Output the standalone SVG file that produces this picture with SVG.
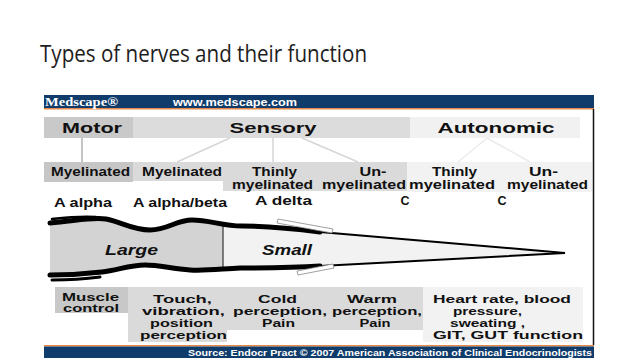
<svg xmlns="http://www.w3.org/2000/svg" width="638" height="359" viewBox="0 0 638 359">
<style>
.t{font-family:"Liberation Sans",Arial,sans-serif;font-weight:bold;fill:#111;text-anchor:middle}
.h{font-size:15px}
.s{font-size:12px}
.b{font-size:11.2px}
.r{font-size:12.5px}
.w{fill:#fff}
.c1{stroke:#c4c4c4;stroke-width:2;fill:none}
.c2{stroke:#d6d6d6;stroke-width:1.5;fill:none}
.c3{stroke:#ebebeb;stroke-width:1.5;fill:none}
.nerve{fill:none;stroke:#000;stroke-linecap:round}
</style>
<rect width="638" height="359" fill="#fff"/>
<text x="40" y="62" font-family="'Open Sans',sans-serif" font-size="24" fill="#1e1e1e" textLength="327" lengthAdjust="spacingAndGlyphs">Types of nerves and their function</text>

<g id="frame">
<rect x="44" y="95" width="550" height="13" fill="#0f3c6b"/>
<rect x="44" y="108" width="550" height="1.5" fill="#e8894a"/>
<line x1="593.5" y1="109" x2="593.5" y2="345" stroke="#111" stroke-width="1.5"/>
<rect x="44" y="345" width="550" height="1.5" fill="#e8894a"/>
<rect x="44" y="346.5" width="550" height="11.5" fill="#0f3c6b"/>
<text x="45" y="106" font-family="'Liberation Serif',serif" font-weight="bold" font-size="12.5" fill="#fff" textLength="73" lengthAdjust="spacingAndGlyphs">Medscape®</text>
<text class="t w" x="235" y="105.5" font-size="10" textLength="124" lengthAdjust="spacingAndGlyphs">www.medscape.com</text>
<text class="w" x="188" y="355.5" font-family="'Liberation Sans',sans-serif" font-weight="bold" font-size="9.5" textLength="404" lengthAdjust="spacingAndGlyphs">Source: Endocr Pract © 2007 American Association of Clinical Endocrinologists</text>
</g>

<g id="connectors">
<line class="c1" x1="82" y1="138" x2="82" y2="162"/>
<line class="c2" x1="230" y1="138" x2="177" y2="162"/>
<line class="c2" x1="273" y1="138" x2="273" y2="162"/>
<line class="c2" x1="302" y1="138" x2="358" y2="162"/>
<line class="c3" x1="487" y1="138" x2="458" y2="162"/>
<line class="c3" x1="487" y1="138" x2="530" y2="162"/>
</g>

<g id="motor">
<rect x="44" y="117" width="89" height="21" fill="#c9c9c9"/>
<text class="t h" x="92" y="133" textLength="60" lengthAdjust="spacingAndGlyphs">Motor</text>
</g>
<g id="sensory">
<rect x="133" y="117" width="277" height="21" fill="#dcdcdc"/>
<text class="t h" x="273" y="133" textLength="87" lengthAdjust="spacingAndGlyphs">Sensory</text>
</g>
<g id="autonomic">
<rect x="410" y="117" width="170" height="21" fill="#f1f1f1"/>
<text class="t h" x="496" y="133" textLength="117" lengthAdjust="spacingAndGlyphs">Autonomic</text>
</g>

<g id="motor-myelinated">
<rect x="44" y="162" width="89" height="20" fill="#c6c6c6"/>
<text class="t s" x="90.5" y="176" textLength="79" lengthAdjust="spacingAndGlyphs">Myelinated</text>
<text class="t r" x="83" y="207" textLength="58" lengthAdjust="spacingAndGlyphs">A alpha</text>
</g>
<g id="sensory-myelinated">
<rect x="133" y="162" width="90" height="19" fill="#dadada"/>
<text class="t s" x="182" y="176" textLength="80" lengthAdjust="spacingAndGlyphs">Myelinated</text>
<text class="t r" x="180" y="207" textLength="94" lengthAdjust="spacingAndGlyphs">A alpha/beta</text>
</g>
<g id="sensory-thinly">
<rect x="223" y="162" width="184" height="29" fill="#dadada"/>
<text class="t s" x="274.5" y="175.5" textLength="45" lengthAdjust="spacingAndGlyphs">Thinly</text>
<text class="t s" x="272.5" y="188.5" textLength="81" lengthAdjust="spacingAndGlyphs">myelinated</text>
<text class="t r" x="283.5" y="205" textLength="57" lengthAdjust="spacingAndGlyphs">A delta</text>
</g>
<g id="sensory-un">
<text class="t s" x="373" y="175.5" textLength="27" lengthAdjust="spacingAndGlyphs">Un-</text>
<text class="t s" x="364" y="188.5" textLength="84" lengthAdjust="spacingAndGlyphs">myelinated</text>
<text class="t r" x="405" y="205">C</text>
</g>
<g id="autonomic-sub">
<rect x="407" y="162" width="185" height="30" fill="#f2f2f2"/>
</g>
<g id="autonomic-thinly">
<text class="t s" x="454.5" y="175.5" textLength="45" lengthAdjust="spacingAndGlyphs">Thinly</text>
<text class="t s" x="452" y="188.5" textLength="86" lengthAdjust="spacingAndGlyphs">myelinated</text>
<text class="t r" x="502" y="205">C</text>
</g>
<g id="autonomic-un">
<text class="t s" x="543.5" y="175.5" textLength="29" lengthAdjust="spacingAndGlyphs">Un-</text>
<text class="t s" x="547.5" y="188.5" textLength="81" lengthAdjust="spacingAndGlyphs">myelinated</text>
</g>

<g id="nerve">
<path d="M50,223 C75,221 92,217 106,219 C122,222 132,230 150,230 C168,230 176,220 192,220 C210,220 222,226 242,226 C265,226 290,228 320,232 L563,253 L320,266 C290,268 265,268 240,268 C220,269 205,271 190,270 C172,269 160,265 145,265 C130,265 118,270 102,272 C85,274 70,275 50,275 Z" fill="#f2f2f2"/>
<path d="M50,223 C75,221 92,217 106,219 C122,222 132,230 150,230 C168,230 176,220 192,220 C210,220 222,226 223,226 L223,269 C205,271 195,270 190,270 C172,269 160,265 145,265 C130,265 118,270 102,272 C85,274 70,275 50,275 Z" fill="#d3d3d3"/>
<line x1="223" y1="226" x2="223" y2="269" stroke="#333" stroke-width="1.2"/>
<path class="nerve" stroke-width="5" d="M50,223 C75,221 92,217 106,219 C122,222 132,230 150,230 C168,230 176,220 192,220 C210,220 222,226 242,226 C265,226 290,228 320,232"/>
<path class="nerve" stroke-width="2.5" d="M52,219 C70,217 85,216 96,217"/>
<path class="nerve" stroke-width="2" d="M320,232 L565,253 L320,266"/>
<path class="nerve" stroke-width="5" d="M320,266 C290,268 265,268 240,268 C220,269 205,271 190,270 C172,269 160,265 145,265 C130,265 118,270 102,272 C85,274 70,275 50,275"/>
<path class="nerve" stroke-width="3" d="M52,280 C70,280 85,279 100,277"/>
<polygon points="278,219 333,229 332,233 277,223" fill="#fff" stroke="#888" stroke-width="0.8"/>
<polygon points="297,271 333,264 334,268 298,275" fill="#fff" stroke="#888" stroke-width="0.8"/>
<text class="t" x="131.5" y="255" font-size="14" font-style="italic" textLength="53" lengthAdjust="spacingAndGlyphs">Large</text>
<text class="t" x="287" y="255" font-size="14" font-style="italic" textLength="50" lengthAdjust="spacingAndGlyphs">Small</text>
</g>

<g id="muscle-control">
<rect x="55" y="287" width="73" height="26" fill="#c8c8c8"/>
<text class="t b" x="90.5" y="301" textLength="57" lengthAdjust="spacingAndGlyphs">Muscle</text>
<text class="t b" x="91" y="312" textLength="56" lengthAdjust="spacingAndGlyphs">control</text>
</g>
<g id="sensory-function">
<path d="M128,287 H423 V330 H227 V342 H128 Z" fill="#dadada"/>
</g>
<g id="touch">
<text class="t b" x="182.5" y="303" textLength="59" lengthAdjust="spacingAndGlyphs">Touch,</text>
<text class="t b" x="183.5" y="315" textLength="83" lengthAdjust="spacingAndGlyphs">vibration,</text>
<text class="t b" x="181.5" y="327" textLength="63" lengthAdjust="spacingAndGlyphs">position</text>
<text class="t b" x="183.5" y="338.5" textLength="87" lengthAdjust="spacingAndGlyphs">perception</text>
</g>
<g id="cold">
<text class="t b" x="277.5" y="303" textLength="39" lengthAdjust="spacingAndGlyphs">Cold</text>
<text class="t b" x="280" y="315" textLength="94" lengthAdjust="spacingAndGlyphs">perception,</text>
<text class="t b" x="278.5" y="327" textLength="33" lengthAdjust="spacingAndGlyphs">Pain</text>
</g>
<g id="warm">
<text class="t b" x="372" y="303" textLength="50" lengthAdjust="spacingAndGlyphs">Warm</text>
<text class="t b" x="377" y="315" textLength="90" lengthAdjust="spacingAndGlyphs">perception,</text>
<text class="t b" x="375" y="327" textLength="31" lengthAdjust="spacingAndGlyphs">Pain</text>
</g>
<g id="heart-rate">
<rect x="423" y="287" width="160" height="55" fill="#f2f2f2"/>
<text class="t b" x="502" y="302.5" textLength="138" lengthAdjust="spacingAndGlyphs">Heart rate, blood</text>
<text class="t b" x="487.5" y="314.5" textLength="69" lengthAdjust="spacingAndGlyphs">pressure,</text>
<text class="t b" x="487.5" y="326.5" textLength="75" lengthAdjust="spacingAndGlyphs">sweating ,</text>
<text class="t b" x="508" y="338.5" textLength="150" lengthAdjust="spacingAndGlyphs">GIT, GUT function</text>
</g>
</svg>
